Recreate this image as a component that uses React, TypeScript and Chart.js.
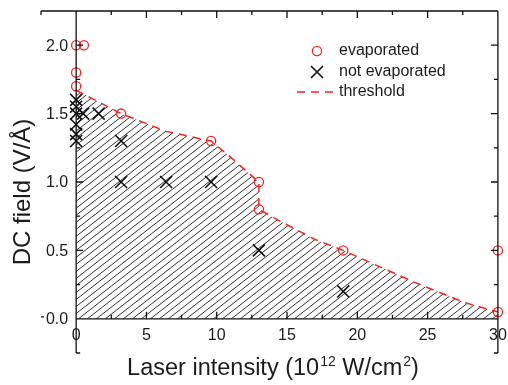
import React, { useEffect, useRef } from "react";
import { Chart, registerables } from "chart.js";

Chart.register(...registerables);

// evaporated (red circles)
const evapX = [0, 0.55, 0, 0, 3.2, 9.6, 13, 13, 19, 30, 30];
const evapY = [2.0, 2.0, 1.8, 1.7, 1.5, 1.3, 1.0, 0.8, 0.5, 0.5, 0.05];
// not evaporated (black crosses)
const notX = [0, 0, 0, 0, 0, 0, 0.5, 1.6, 3.2, 3.2, 6.4, 9.6, 13, 19];
const notY = [1.6, 1.55, 1.5, 1.42, 1.35, 1.3, 1.5, 1.5, 1.3, 1.0, 1.0, 1.0, 0.5, 0.2];
// threshold (red dashed)
const thrX = [0, 3.2, 6.4, 9.6, 11, 13, 13, 14.4, 17, 19, 24, 27.6, 30];
const thrY = [1.67, 1.5, 1.37, 1.3, 1.18, 1.0, 0.8, 0.72, 0.58, 0.5, 0.27, 0.12, 0.05];

const xTickLabels = ["0", "5", "10", "15", "20", "25", "30"];
const yTickLabels = ["0.0", "0.5", "1.0", "1.5", "2.0"];
const legendLabels = ["evaporated", "not evaporated", "threshold"];

const FONT = '"Liberation Sans", Arial, Helvetica, sans-serif';
const TEXT = "#1c1c1c";
const RED = "#ff2020";

const decorPlugin = {
  id: "decor",
  beforeDatasetsDraw(chart: any) {
    const { ctx, scales } = chart;
    const xs = scales.x;
    const ys = scales.y;
    // hatch fill under threshold
    ctx.save();
    ctx.beginPath();
    ctx.moveTo(xs.getPixelForValue(0), ys.getPixelForValue(0));
    for (let i = 0; i < thrX.length; i++) {
      ctx.lineTo(xs.getPixelForValue(thrX[i]), ys.getPixelForValue(thrY[i]));
    }
    ctx.lineTo(xs.getPixelForValue(thrX[thrX.length - 1]), ys.getPixelForValue(0));
    ctx.closePath();
    ctx.clip();
    const top = chart.chartArea.top;
    const bot = chart.chartArea.bottom;
    const slope = 0.78;
    const h = bot - top;
    ctx.strokeStyle = "#333";
    ctx.lineWidth = 1;
    ctx.beginPath();
    for (let x0 = chart.chartArea.left - h / slope; x0 < chart.chartArea.right + 10; x0 += 9) {
      ctx.moveTo(x0, bot);
      ctx.lineTo(x0 + h / slope, top);
    }
    ctx.stroke();
    ctx.restore();
  },
  afterDraw(chart: any) {
    const { ctx, scales, chartArea } = chart;
    const xs = scales.x;
    const ys = scales.y;
    const L = chartArea.left, R = chartArea.right, T = chartArea.top, B = chartArea.bottom;
    const x0 = xs.getPixelForValue(0);
    const y0 = ys.getPixelForValue(0);
    ctx.save();
    ctx.strokeStyle = "#111";
    ctx.lineWidth = 1.3;
    ctx.beginPath();
    ctx.moveTo(L, T); ctx.lineTo(R, T);
    ctx.moveTo(R, T); ctx.lineTo(R, B);
    ctx.moveTo(x0, T); ctx.lineTo(x0, B);
    ctx.moveTo(x0, y0); ctx.lineTo(R, y0);
    ctx.moveTo(L, y0 - 2); ctx.lineTo(L + 3, y0 - 2);
    for (let v = -2.5; v <= 30.001; v += 2.5) {
      const px = xs.getPixelForValue(v);
      const major = Math.abs(v % 5) < 1e-6;
      const len = major ? 7 : 4;
      ctx.moveTo(px, T); ctx.lineTo(px, T + len);
      if (v >= 0) { ctx.moveTo(px, y0); ctx.lineTo(px, y0 - len); }
    }
    for (let v = -0.25; v <= 2.2501; v += 0.25) {
      const py = ys.getPixelForValue(v);
      const major = Math.abs((v * 2) - Math.round(v * 2)) < 1e-6;
      const len = major ? 7 : 4;
      ctx.moveTo(x0, py); ctx.lineTo(x0 + len, py);
      ctx.moveTo(R, py); ctx.lineTo(R - len, py);
    }
    ctx.stroke();

    ctx.fillStyle = TEXT;
    ctx.font = `16px ${FONT}`;
    ctx.textAlign = "right";
    ctx.textBaseline = "middle";
    yTickLabels.forEach((s) => {
      ctx.fillText(s, x0 - 8, ys.getPixelForValue(parseFloat(s)) + 1);
    });
    ctx.textAlign = "center";
    xTickLabels.forEach((s) => {
      ctx.fillText(s, xs.getPixelForValue(parseFloat(s)), y0 + 17);
    });

    ctx.save();
    ctx.translate(23, 192);
    ctx.rotate(-Math.PI / 2);
    ctx.font = `24px ${FONT}`;
    ctx.textAlign = "center";
    ctx.textBaseline = "middle";
    ctx.fillText("DC field (V/\u00C5)", 0, 0);
    ctx.restore();

    const mainF = `23.5px ${FONT}`;
    const supF = `14px ${FONT}`;
    const parts: [string, boolean][] = [
      ["Laser intensity (10", false],
      ["12", true],
      [" W/cm", false],
      ["2", true],
      [")", false],
    ];
    let total = 0;
    const widths = parts.map(([s, sup]) => {
      ctx.font = sup ? supF : mainF;
      const w = ctx.measureText(s).width + (sup ? 1 : 0);
      total += w;
      return w;
    });
    let cx = 273 - total / 2;
    const baseY = 375;
    ctx.textAlign = "left";
    ctx.textBaseline = "alphabetic";
    parts.forEach(([s, sup], i) => {
      ctx.font = sup ? supF : mainF;
      ctx.fillText(s, cx + (sup ? 1 : 0), sup ? baseY - 9 : baseY);
      cx += widths[i];
    });

    const lx = 317;
    const tx = 339;
    const rows = [51, 72, 92];
    ctx.font = `16px ${FONT}`;
    ctx.textBaseline = "middle";
    ctx.fillStyle = TEXT;
    legendLabels.forEach((s, i) => ctx.fillText(s, tx, rows[i]));
    ctx.strokeStyle = RED;
    ctx.lineWidth = 1.3;
    ctx.beginPath();
    ctx.arc(lx, rows[0], 4.6, 0, Math.PI * 2);
    ctx.stroke();
    ctx.strokeStyle = "#111";
    ctx.lineWidth = 1.6;
    ctx.beginPath();
    ctx.moveTo(lx - 6, rows[1] - 6); ctx.lineTo(lx + 6, rows[1] + 6);
    ctx.moveTo(lx + 6, rows[1] - 6); ctx.lineTo(lx - 6, rows[1] + 6);
    ctx.stroke();
    ctx.strokeStyle = RED;
    ctx.lineWidth = 1.5;
    ctx.setLineDash([8, 6]);
    ctx.beginPath();
    ctx.moveTo(297, rows[2]);
    ctx.lineTo(335, rows[2]);
    ctx.stroke();
    ctx.restore();
  },
};

export default function App() {
  const ref = useRef<HTMLCanvasElement | null>(null);
  useEffect(() => {
    if (!ref.current) return;
    const chart = new Chart(ref.current, {
      type: "scatter",
      data: {
        datasets: [
          {
            type: "line",
            label: legendLabels[2],
            data: thrX.map((x, i) => ({ x, y: thrY[i] })),
            borderColor: RED,
            borderWidth: 1.5,
            borderDash: [8, 6],
            pointRadius: 0,
            fill: false,
            tension: 0,
            clip: false,
          } as any,
          {
            label: legendLabels[0],
            data: evapX.map((x, i) => ({ x, y: evapY[i] })),
            pointStyle: "circle",
            pointRadius: 4.6,
            borderColor: RED,
            backgroundColor: "rgba(255,255,255,0)",
            borderWidth: 1.3,
            clip: false,
          } as any,
          {
            label: legendLabels[1],
            data: notX.map((x, i) => ({ x, y: notY[i] })),
            pointStyle: "crossRot",
            pointRadius: 8.5,
            borderColor: "#111",
            backgroundColor: "#111",
            borderWidth: 1.6,
            clip: false,
          } as any,
        ],
      },
      options: {
        animation: false,
        responsive: false,
        maintainAspectRatio: false,
        layout: { padding: { left: 41, right: 7, top: 11, bottom: 32 } },
        scales: {
          x: { type: "linear", min: -2.5, max: 30, display: false },
          y: { type: "linear", min: -0.25, max: 2.25, display: false },
        },
        plugins: { legend: { display: false }, tooltip: { enabled: false } },
        events: [],
      },
      plugins: [decorPlugin],
    });
    return () => chart.destroy();
  }, []);
  return (
    <div style={{ position: "fixed", left: 0, top: 0, width: 508, height: 385, background: "#fff" }}>
      <canvas ref={ref} width={508} height={385} style={{ width: 508, height: 385 }} />
    </div>
  );
}
